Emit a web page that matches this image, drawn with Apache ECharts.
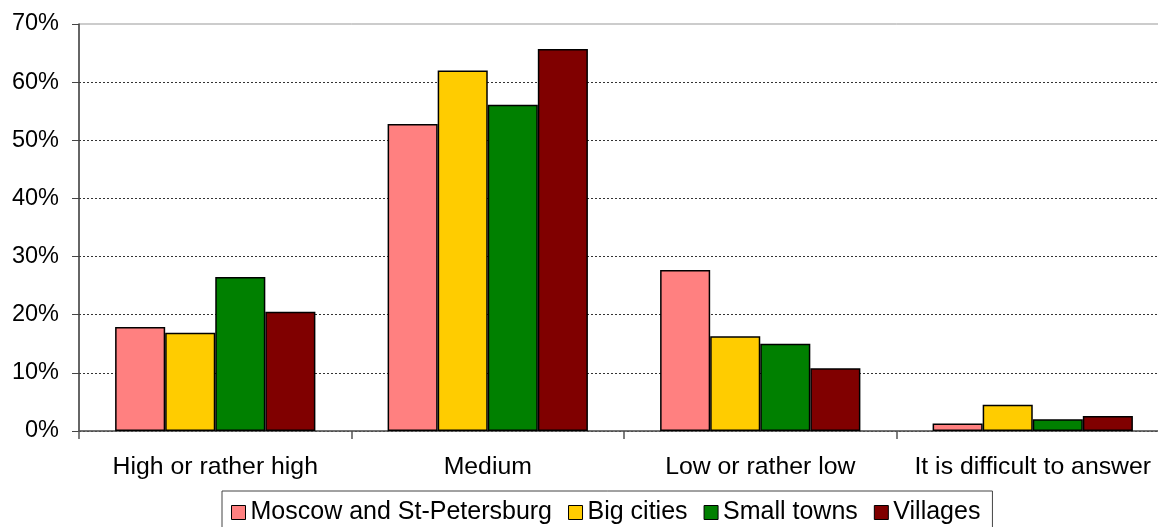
<!DOCTYPE html>
<html>
<head>
<meta charset="utf-8">
<script src="https://cdn.jsdelivr.net/npm/echarts@6/dist/echarts.min.js"></script>
<style>
  html, body { margin: 0; padding: 0; background: #fff; overflow: hidden; }
  /* the reference crops the plot area on the right, so the canvas is a bit wider than the window */
  #chart { width: 1169px; height: 527px; }
</style>
</head>
<body>
<div id="chart"></div>
<script>
// categories and values (percent)
const categories = ['High or rather high', 'Medium', 'Low or rather low', 'It is difficult to answer'];
const moscowSpb = [17.9, 52.8, 27.7, 1.3];
const bigCities = [16.9, 62.0, 16.3, 4.5];
const smallTowns = [26.5, 56.1, 15.0, 2.0];
const villages = [20.5, 65.7, 10.8, 2.6];
const yTicks = [0, 10, 20, 30, 40, 50, 60, 70];

const seriesDefs = [
  { name: 'Moscow and St-Petersburg', data: moscowSpb, color: '#FF8080' },
  { name: 'Big cities', data: bigCities, color: '#FFCC00' },
  { name: 'Small towns', data: smallTowns, color: '#008000' },
  { name: 'Villages', data: villages, color: '#800000' }
];

const chart = echarts.init(document.getElementById('chart'));

// top line at 70% is the solid plot border, the others are dotted
const gridColors = yTicks.map((t, i) => i === yTicks.length - 1 ? 'rgba(0,0,0,0)' : '#333');

const option = {
  animation: false,
  textStyle: { fontFamily: 'Liberation Sans, Arial, sans-serif', color: '#000' },
  grid: {
    left: 79,
    top: 24,
    right: 0,
    bottom: 96,
    show: true,
    borderColor: '#999',
    borderWidth: 1,
    backgroundColor: '#fff'
  },
  legend: {
    left: 222,
    top: 491,
    padding: [9, 12, 12, 9],
    itemGap: 16,
    itemWidth: 14,
    itemHeight: 14,
    icon: 'rect',
    borderColor: '#444',
    borderWidth: 1,
    textStyle: { fontSize: 25, color: '#000', lineHeight: 24 },
    itemStyle: { borderColor: '#000', borderWidth: 1 }
  },
  xAxis: {
    type: 'category',
    data: categories,
    axisLine: { lineStyle: { color: '#555', width: 1.5 } },
    axisTick: { show: true, length: 8, lineStyle: { color: '#555', width: 1.5 } },
    axisLabel: { fontSize: 24.8, color: '#000', margin: 24, interval: 0 }
  },
  yAxis: {
    type: 'value',
    min: 0,
    max: 70,
    interval: 10,
    axisLine: { show: true, lineStyle: { color: '#444', width: 1.5 } },
    axisTick: { show: true, length: 7, lineStyle: { color: '#444' } },
    axisLabel: { fontSize: 23.5, color: '#000', margin: 20, padding: [6, 0, 0, 0], formatter: '{value}%' },
    splitLine: { lineStyle: { color: gridColors, type: [2, 2], width: 1 } }
  },
  series: seriesDefs.map(s => ({
    name: s.name,
    type: 'bar',
    data: s.data,
    barGap: '0%',
    barCategoryGap: '26.5%',
    itemStyle: { color: s.color, borderColor: '#000', borderWidth: 1.5 }
  }))
};

chart.setOption(option);
</script>
</body>
</html>
